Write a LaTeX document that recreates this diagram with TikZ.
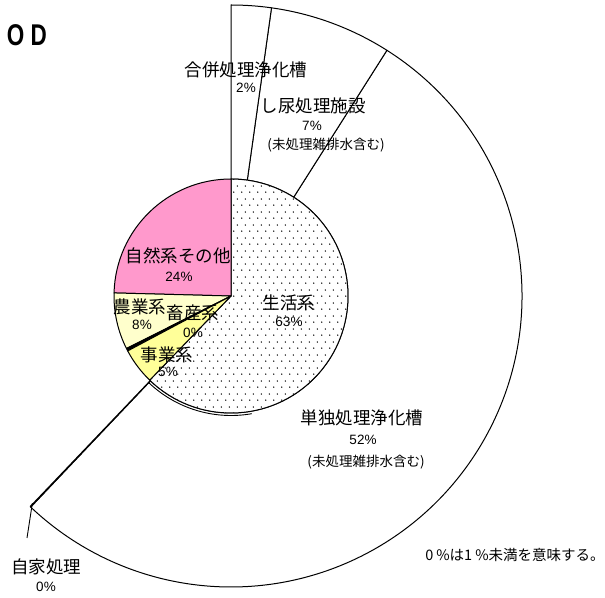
\documentclass[tikz,border=0pt]{standalone}
\usepackage{fontspec}
\setmainfont{Liberation Sans}
\newfontfamily\jp{Noto Sans CJK JP}
\usetikzlibrary{patterns}
\pgfdeclarepatternformonly{sdots}{\pgfqpoint{0pt}{0pt}}{\pgfqpoint{8pt}{13pt}}{\pgfqpoint{8pt}{13pt}}{%
  \pgfpathcircle{\pgfqpoint{2pt}{2pt}}{0.8pt}%
  \pgfpathcircle{\pgfqpoint{6pt}{8.5pt}}{0.8pt}%
  \pgfusepath{fill}}
\definecolor{pinkc}{HTML}{FF99CC}
\definecolor{lyel}{HTML}{FFFFCC}
\definecolor{yel}{HTML}{FFFF99}
\begin{document}
\begin{tikzpicture}[x=1pt,y=1pt,
  edge/.style={draw=black,line width=1pt,line join=round},
  lbl/.style={font=\jp\fontsize{17.5}{17.5}\selectfont,inner sep=0pt},
  pct/.style={font=\fontsize{13.5}{13.5}\selectfont,inner sep=0pt},
  subl/.style={font=\jp\fontsize{13.5}{13.5}\selectfont,inner sep=0pt},
  ttl/.style={font=\fontsize{30}{30}\selectfont\bfseries,inner sep=0pt}]
\useasboundingbox[fill=white] (0,0) rectangle (605,597);
\coordinate (C) at (231,301);
\def\ri{117}
\def\ro{291}
% outer ring sectors
\newcommand\ringsec[2]{%
  \filldraw[edge,fill=white] ([shift={(#1:\ri pt)}]C) arc[start angle=#1,end angle=#2,radius=\ri pt]
    -- ([shift={(#2:\ro pt)}]C) arc[start angle=#2,end angle=#1,radius=\ro pt] -- cycle;}
\ringsec{-133.5}{57.6}
\ringsec{57.6}{82}
\ringsec{82}{90}
\ringsec{-133.65}{-133.5}
% 自家処理 leader
\coordinate (jk) at ([shift={(-133.8:287pt)}]C);
\coordinate (lead) at (27,59);
\draw[line width=0.9pt] (jk) -- (lead);
% double arc at lower left
\draw[line width=0.9pt] ([shift={(-134:119.5pt)}]C) arc[start angle=-134,end angle=-80,radius=119.5pt];
% inner pie
\filldraw[edge,fill=white] (C) -- ([shift={(-134:\ri pt)}]C) arc[start angle=-134,end angle=90,radius=\ri pt] -- cycle;
\fill[pattern=sdots,pattern color=black] (C) -- ([shift={(-134:\ri pt)}]C) arc[start angle=-134,end angle=90,radius=\ri pt] -- cycle;
\filldraw[edge,fill=pinkc] (C) -- ([shift={(90:\ri pt)}]C) arc[start angle=90,end angle=178.5,radius=\ri pt] -- cycle;
\filldraw[edge,fill=lyel] (C) -- ([shift={(178.5:\ri pt)}]C) arc[start angle=178.5,end angle=206.7,radius=\ri pt] -- cycle;
\filldraw[edge,fill=black] (C) -- ([shift={(206.7:\ri pt)}]C) arc[start angle=206.7,end angle=208,radius=\ri pt] -- cycle;
\filldraw[edge,fill=yel] (C) -- ([shift={(208:\ri pt)}]C) arc[start angle=208,end angle=226,radius=\ri pt] -- cycle;
% title
\node[ttl] (title) at (27,562) {\scalebox{0.75}[1]{O D}};
% labels
\node[lbl] (gp) at (246,527) {合併処理浄化槽};
\node[pct] (gpv) at (246,509) {2\%};
\node[lbl] (sn) at (313,491) {し尿処理施設};
\node[pct] (snv) at (312,471) {7\%};
\node[subl] (snn) at (326,452) {(未処理雑排水含む)};
\node[lbl] (sz) at (178,341) {自然系その他};
\node[pct] (szv) at (179,320) {24\%};
\node[lbl] (sk) at (289,294) {生活系};
\node[pct] (skv) at (289,275) {63\%};
\node[lbl] (ng) at (140,290) {農業系};
\node[pct] (ngv) at (142,272) {8\%};
\node[lbl] (cs) at (193,284) {畜産系};
\node[pct] (csv) at (193,264) {0\%};
\node[lbl] (jg) at (167,242) {事業系};
\node[pct] (jgv) at (168,225) {5\%};
\node[lbl] (td) at (362,179) {単独処理浄化槽};
\node[pct] (tdv) at (363,157) {52\%};
\node[subl] (tdn) at (366,135) {(未処理雑排水含む)};
\node[lbl] (jkl) at (46,30) {自家処理};
\node[pct] (jkv) at (46,10) {0\%};
\node[font=\jp\fontsize{14.5}{14.5}\selectfont,inner sep=0pt] (note) at (515,42) {0\kern3pt\%は1\kern3pt\%未満を意味する。};
\end{tikzpicture}
\end{document}
